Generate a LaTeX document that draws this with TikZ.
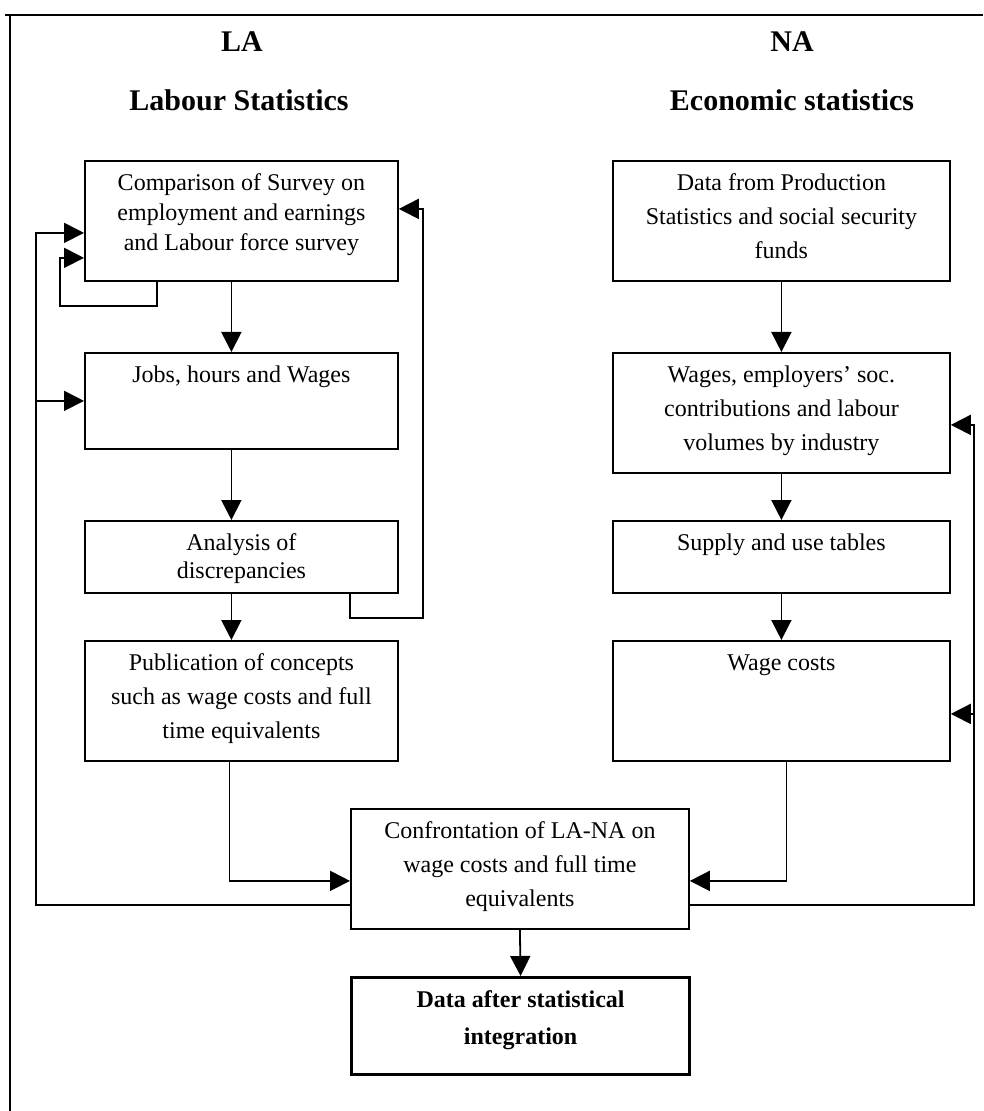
\documentclass[tikz,border=0pt]{standalone}
\usepackage{fontspec}
\setmainfont{Liberation Serif}
\usetikzlibrary{arrows.meta}
\newcommand{\boxtext}[3]{\parbox[c][#1][t]{#2}{\centering\rule{0pt}{15pt}#3}}

\begin{document}
\begin{tikzpicture}[>={Triangle[length=10pt,width=10pt]},x=0.5pt,y=-0.5pt,line width=0.9pt,
  every node/.style={font=\fontsize{12}{17}\selectfont},
  box/.style={draw,inner sep=0pt,anchor=north west},
  head/.style={font=\fontsize{15}{18}\selectfont\bfseries,anchor=base}]
\useasboundingbox (0,0) rectangle (983,1111);
% frame
\draw (5,15) -- (983,15); \draw (10,15) -- (10,1111);
% headings
\node[head] (la) at (242,52) {LA};
\node[head] (na) at (792,52) {NA};
\node[head] (lstat) at (239,111) {Labour Statistics};
\node[head] (estat) at (792,111) {Economic statistics};
% LA side
\node[box] (b1) at (84,160) {\boxtext{60pt}{156.5pt}{\fontsize{12}{15}\selectfont Comparison of Survey on\\ employment and earnings\\ and Labour force survey}};
\node[box] (b2) at (84,352) {\boxtext{48pt}{156.5pt}{Jobs, hours and Wages}};
\node[box] (b3) at (84,520) {\boxtext{36pt}{156.5pt}{\fontsize{12}{14}\selectfont Analysis of\\ discrepancies}};
\node[box] (b4) at (84,640) {\boxtext{60pt}{156.5pt}{Publication of concepts\\ such as wage costs and full\\ time equivalents}};
% NA side
\node[box] (r1) at (612,160) {\boxtext{60pt}{168.5pt}{Data from Production\\ Statistics and social security\\ funds}};
\node[box] (r2) at (612,352) {\boxtext{60pt}{168.5pt}{Wages, employers’ soc.\\ contributions and labour\\ volumes by industry}};
\node[box] (r3) at (612,520) {\boxtext{36pt}{168.5pt}{Supply and use tables}};
\node[box] (r4) at (612,640) {\boxtext{60pt}{168.5pt}{Wage costs}};
% bottom
\node[box] (conf) at (350,808) {\boxtext{60pt}{169pt}{Confrontation of LA-NA on\\ wage costs and full time\\ equivalents}};
\node[box,line width=1.6pt] (data) at (350,976) {\boxtext{48.5pt}{169pt}{\bfseries\fontsize{12}{18.5}\selectfont Data after statistical\\ integration}};
% main flow
\draw[->] ([xshift=-5pt]b1.south) -- ([xshift=-5pt]b2.north);
\draw[->] ([xshift=-5pt]b2.south) -- ([xshift=-5pt]b3.north);
\draw[->] ([xshift=-5pt]b3.south) -- ([xshift=-5pt]b4.north);
\draw[->] (r1.south) -- (r2.north);
\draw[->] (r2.south) -- (r3.north);
\draw[->] (r3.south) -- (r4.north);
\draw[->] ([xshift=-6pt]b4.south) |- ([yshift=-6pt]conf.west);
\draw[->] ([xshift=2.5pt]r4.south) |- ([yshift=-6pt]conf.east);
\draw[->] (conf.south) -- (data.north);
% feedback loops
\coordinate (fbl) at ([xshift=-24pt,yshift=-6pt]b1.west);
\draw[->] ([yshift=-18pt]conf.west) -| (fbl) -- ([yshift=-6pt]b1.west);
\draw[->] (b2.west -| fbl) -- (b2.west);
\coordinate (fbr) at ([xshift=11.5pt,yshift=-6pt]r2.east);
\draw[->] ([yshift=-18pt]conf.east) -| (fbr) -- ([yshift=-6pt]r2.east);
\coordinate (r4in) at ([yshift=-6.5pt]r4.east);
\draw[->] (r4in -| fbr) -- (r4in);
\draw[->] ([xshift=36.5pt]b1.south west) -- ++(0,-12pt) -| ([xshift=-12pt,yshift=-18.5pt]b1.west) -- ([yshift=-18.5pt]b1.west);
\draw[->] ([xshift=-24.5pt]b3.south east) -- ++(0,-12pt) -| ([xshift=12pt,yshift=6pt]b1.east) -- ([yshift=6pt]b1.east);
\end{tikzpicture}
\end{document}
